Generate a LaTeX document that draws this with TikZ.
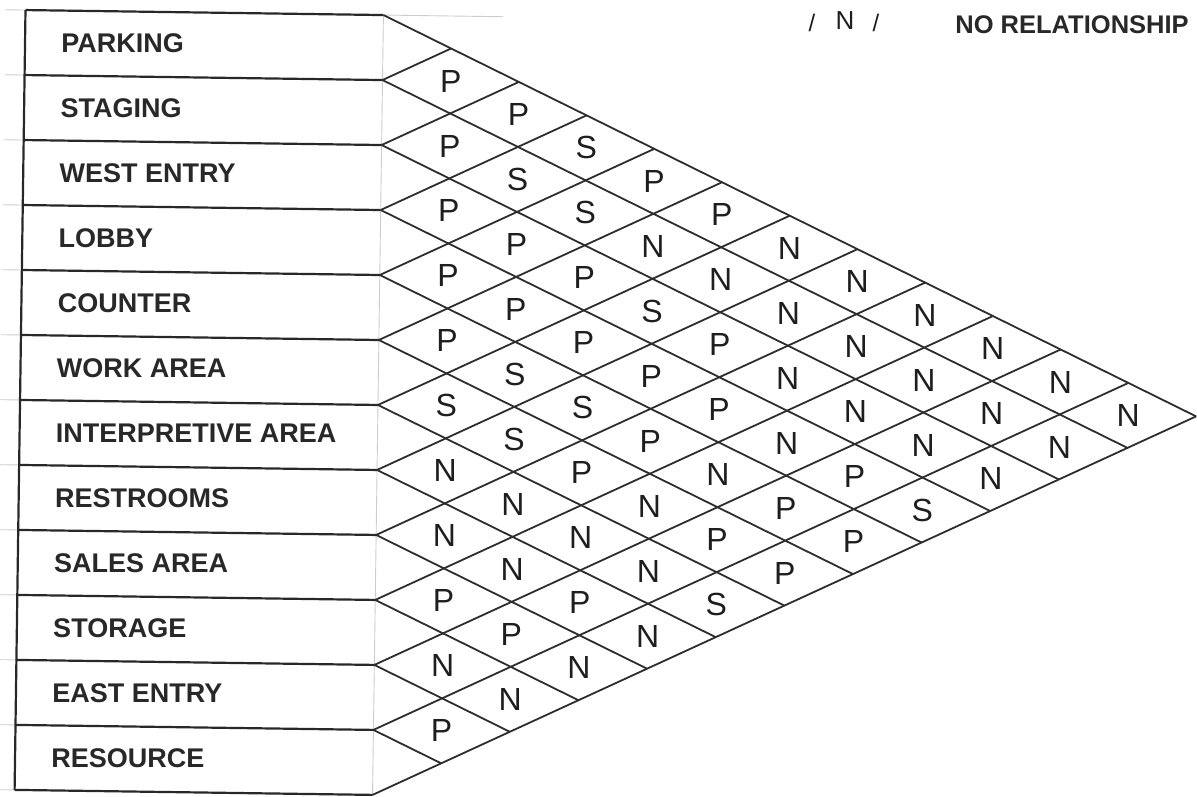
\documentclass[tikz,border=0pt]{standalone}
\usepackage{fontspec}
\setmainfont{Liberation Sans}
\usetikzlibrary{calc}

\tikzset{every picture/.style={line width=0.75pt}}
\tikzset{
  rule/.style={draw={rgb, 255:red, 40; green, 40; blue, 40}, line width=2.2pt},
  gridline/.style={draw={rgb, 255:red, 45; green, 45; blue, 45}, line width=1.8pt},
  faint/.style={draw={rgb, 255:red, 205; green, 205; blue, 205}, line width=0.9pt},
  roomlabel/.style={anchor=west, inner sep=0pt, text={rgb, 255:red, 40; green, 40; blue, 40}, font=\bfseries\fontsize{27}{30}\selectfont},
  relcode/.style={inner sep=0pt, text={rgb, 255:red, 30; green, 30; blue, 30}, font=\fontsize{32}{34}\selectfont},
}

\begin{document}
\begin{tikzpicture}[x=1pt,y=1pt,yscale=-1,xscale=1]
\useasboundingbox (0,0) rectangle (1197,796);
\clip (0,0) rectangle (1197,796);

\begin{scope}[rotate around={0.8:(378,405)}]
  \foreach \k in {0,...,12} {
    \pgfmathsetmacro\dn{12-\k}
    \coordinate (edge\k) at (0,15+65*\k);
    \coordinate (lft\k) at (20,15+65*\k);
    \coordinate (tip\k) at (378,15+65*\k);
    \coordinate (low\k) at ($(tip\k)+(68.2*\dn,32.5*\dn)$);
    \coordinate (high\k) at ($(tip\k)+(68.2*\k,-32.5*\k)$);
  }

  \draw[faint] (tip0) -- (tip12);
  \draw[faint] (tip0) -- ++(120,0);
  \foreach \k in {0,...,12} {
    \draw[faint] (edge\k) -- (lft\k);
    \draw[rule] (lft\k) -- (tip\k);
  }
  \draw[rule] (lft0) -- (lft12);

  \foreach \k in {0,...,11} \draw[gridline] (tip\k) -- (low\k);
  \foreach \k in {1,...,12} \draw[gridline] (tip\k) -- (high\k);

  \foreach \name [count=\r] in {PARKING, STAGING, WEST ENTRY, LOBBY, COUNTER, WORK AREA, INTERPRETIVE AREA, RESTROOMS, SALES AREA, STORAGE, EAST ENTRY, RESOURCE}
    \node[roomlabel] (room\r) at (56,65*\r-17.5) {\name};

  \foreach \i/\codes in {1/{P,P,S,P,P,N,N,N,N,N,N}, 2/{P,S,S,N,N,N,N,N,N,N}, 3/{P,P,P,S,P,N,N,N,N}, 4/{P,P,P,P,P,N,P,S}, 5/{P,S,S,P,N,P,P}, 6/{S,S,P,N,P,P}, 7/{N,N,N,N,S}, 8/{N,N,P,N}, 9/{P,P,N}, 10/{N,N}, 11/{P}}
    \foreach \c [count=\d] in \codes
      \node[relcode] (rel\i-\d) at ({378+68.2*\d},{15+32.5*(2*\i+\d-1)}) {\c};
\end{scope}

\node[relcode, font=\fontsize{24}{26}\selectfont] (keyleft) at (812,23) {/};
\node[relcode, font=\fontsize{26}{28}\selectfont] (keycode) at (845,21) {N};
\node[relcode, font=\fontsize{24}{26}\selectfont] (keyright) at (876,23) {/};
\node[roomlabel, font=\bfseries\fontsize{25.5}{28}\selectfont] (keytext) at (955,25) {NO RELATIONSHIP};
\end{tikzpicture}
\end{document}
